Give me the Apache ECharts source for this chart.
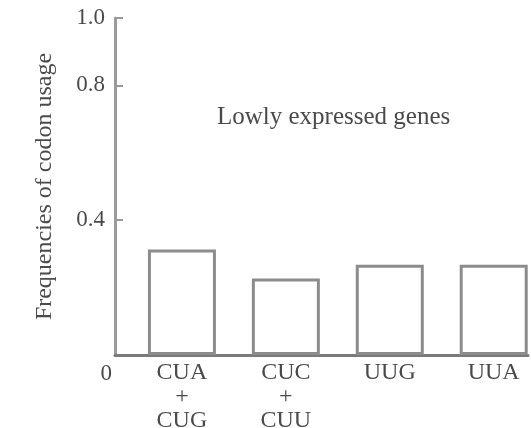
<!DOCTYPE html>
<html>
<head>
<meta charset="utf-8">
<script src="https://cdn.jsdelivr.net/npm/echarts@6/dist/echarts.min.js"></script>
<style>
  html, body { margin: 0; padding: 0; background: #fff; }
  #chart { width: 531px; height: 428px; }
</style>
</head>
<body>
<div id="chart"></div>
<script>
// codon groups and their usage frequency (lowly expressed genes)
const categories = ['CUA\n+\nCUG', 'CUC\n+\nCUU', 'UUG', 'UUA'];
const positions = [0, 1, 2, 3];
const frequencies = [0.313, 0.227, 0.268, 0.268];
const yTicks = [0.4, 0.8, 1.0];
const yLabels = [0, 0.4, 0.8, 1.0];

const font = '"Liberation Serif", "DejaVu Serif", serif';
const textColor = '#4a4a4a';

const chart = echarts.init(document.getElementById('chart'));

const option = {
  backgroundColor: '#fff',
  title: {
    text: 'Lowly expressed genes',
    left: 212,
    top: 100,
    textStyle: { fontFamily: font, fontSize: 25, fontWeight: 'normal', color: textColor }
  },
  grid: { left: 115, right: 3, top: 18, bottom: 73, outerBoundsMode: 'none' },
  xAxis: {
    type: 'value',
    min: -0.644,
    max: 3.33,
    splitLine: { show: false },
    axisLine: { lineStyle: { color: '#7a7a7a', width: 3 } },
    axisTick: { show: false },
    axisLabel: {
      customValues: positions,
      formatter: (v) => categories[Math.round(v)],
      fontFamily: font,
      fontSize: 24,
      lineHeight: 24,
      color: textColor,
      margin: 6
    }
  },
  yAxis: {
    type: 'value',
    min: 0,
    max: 1,
    name: 'Frequencies of codon usage',
    nameLocation: 'middle',
    nameGap: 58,
    nameTextStyle: { fontFamily: font, fontSize: 24, color: textColor },
    splitLine: { show: false },
    axisLine: { show: true, onZero: false, lineStyle: { color: '#9a9a9a', width: 3 } },
    axisTick: {
      show: true,
      inside: true,
      length: 8,
      customValues: yTicks,
      lineStyle: { color: '#9a9a9a', width: 2 }
    },
    axisLabel: {
      customValues: yLabels,
      margin: 3,
      formatter: (v) => v === 0 ? '{z|0}' : '{n|' + v.toFixed(1) + '}',
      rich: {
        n: { fontFamily: font, fontSize: 23, color: textColor, padding: [0, 7, 0, 0] },
        z: { fontFamily: font, fontSize: 23, color: textColor, padding: [38, 0, 0, 0] }
      }
    }
  },
  series: [{
    type: 'bar',
    barWidth: 68,
    data: positions.map((p, i) => [p, frequencies[i]]),
    itemStyle: { color: '#fff', borderColor: '#8c8c8c', borderWidth: 3 },
    silent: true
  }]
};

chart.setOption(option);
</script>
</body>
</html>
